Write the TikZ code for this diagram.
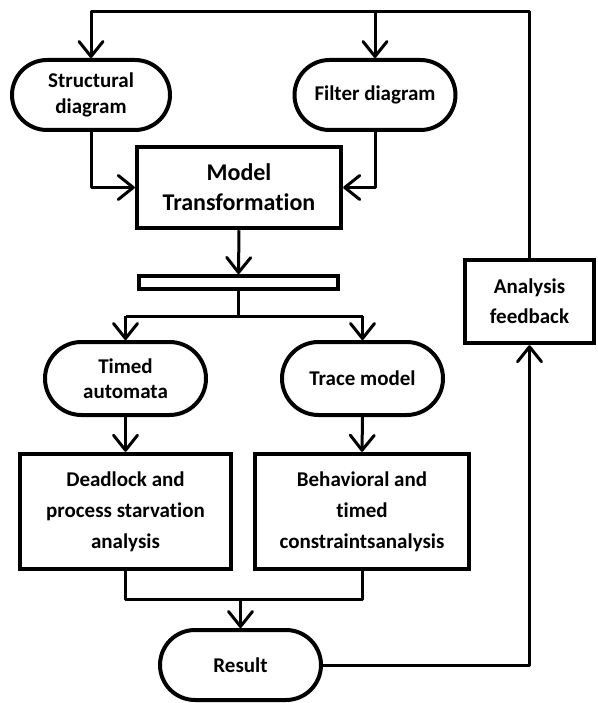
\documentclass[tikz,border=0pt]{standalone}
\usepackage{fontspec}
\setmainfont{Carlito}[Ligatures=NoCommon]
\usetikzlibrary{arrows.meta,shapes.misc}
\begin{document}
\begin{tikzpicture}[x=1pt,y=-1pt,
  every node/.style={font=\fontsize{21}{31}\selectfont\bfseries, align=center, inner sep=0pt},
  term/.style={draw, line width=4pt, rounded rectangle, minimum height=70pt, font=\fontsize{21}{25.5}\selectfont\bfseries},
  proc/.style={draw, line width=4.5pt, rectangle},
  conn/.style={line width=3pt, line join=round},
  arr/.style={conn, -{Straight Barb[length=15pt,width=24pt,line width=3pt,round]}}]
\useasboundingbox (0,0) rectangle (597,703);

% terminals and process boxes
\node[term, minimum width=158pt] (struct) at (91,95) {Structural\\diagram};
\node[term, minimum width=161pt] (filter) at (375,95) {Filter diagram};
\node[proc, minimum width=204pt, minimum height=81pt, font=\fontsize{24}{30}\selectfont\bfseries] (model) at (239,187.5) {Model\\Transformation};
\node[draw, line width=4pt, minimum width=199pt, minimum height=13pt] (bar) at (238.5,282.5) {};
\node[term, minimum width=161pt, minimum height=73pt] (timed) at (125.5,378.5) {Timed\\automata};
\node[term, minimum width=161pt, minimum height=73pt] (trace) at (362.5,378.5) {Trace model};
\node[proc, minimum width=211pt, minimum height=115pt] (dead) at (125.5,511.5) {Deadlock and\\process starvation\\analysis};
\node[proc, minimum width=214pt, minimum height=115pt] (behav) at (362,511.5) {Behavioral and\\timed\\constraintsanalysis};
\node[term, minimum width=161pt] (result) at (240.5,665) {Result};
\node[proc, minimum width=129pt, minimum height=83pt, font=\fontsize{21}{30}\selectfont\bfseries] (feed) at (529.5,301.5) {Analysis\\feedback};

% routing levels
\coordinate (top) at (0,12);
\coordinate (split) at (0,316);
\coordinate (join) at (0,599);

% feedback loop back to the inputs
\draw[arr] (feed.north) -- (feed.north |- top) -- (struct.north |- top) -- (struct.north);
\draw[arr] (filter.north |- top) -- (filter.north);

% inputs into the transformation
\draw[arr] (struct.south) |- (model.west);
\draw[arr] (filter.south) |- (model.east);
\draw[arr] (model.south) -- (bar.north);

% fork
\draw[conn] (bar.south) -- (bar.south |- split);
\draw[conn] (timed.north |- split) -- (trace.north |- split);
\draw[arr] (timed.north |- split) -- (timed.north);
\draw[arr] (trace.north |- split) -- (trace.north);

% analyses
\draw[arr] (timed.south) -- (dead.north);
\draw[arr] (trace.south) -- (behav.north);

% join into the result
\draw[conn] (dead.south) -- (dead.south |- join) -- (behav.south |- join) -- (behav.south);
\draw[arr] (result.north |- join) -- (result.north);
\draw[arr] (result.east) -| (feed.south);
\end{tikzpicture}
\end{document}
